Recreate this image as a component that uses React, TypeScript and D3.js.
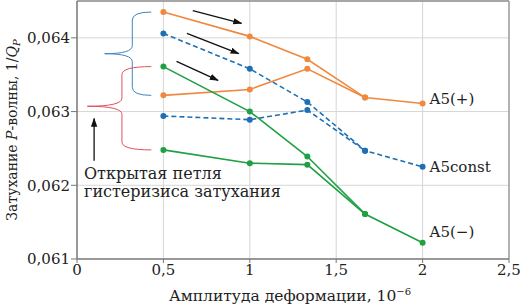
import React from "react";
import * as d3 from "d3";

const amplitudes = [0.5, 1, 1.333, 1.667, 2];
const plusUpper = [0.06435, 0.06402, 0.06371, 0.06319, 0.06311];
const plusLower = [0.06322, 0.0633, 0.06358, 0.06319];
const constUpper = [0.06406, 0.06358, 0.06313, 0.06247, 0.06225];
const constLower = [0.06294, 0.06289, 0.06302, 0.06247];
const minusUpper = [0.06361, 0.063, 0.06239, 0.06161, 0.06122];
const minusLower = [0.06248, 0.0623, 0.06228, 0.06161];
const xTicks = [0, 0.5, 1, 1.5, 2, 2.5];
const yTicks = [0.061, 0.062, 0.063, 0.064];
const seriesLabels = ["A5(+)", "A5const", "A5(−)"];

const W = 520, H = 306;
const M = { left: 77, right: 11, top: 1, bottom: 47 };

const ORANGE = "#f0883e";
const BLUE = "#1f6fb2";
const GREEN = "#1fa043";

export default function App() {
  const x = d3.scaleLinear().domain([0, 2.5]).range([M.left, W - M.right]);
  const y = d3.scaleLinear().domain([0.061, 0.0645]).range([H - M.bottom, M.top]);
  const line = d3.line<[number, number]>().x((d) => x(d[0])).y((d) => y(d[1]));
  const pts = (vals: number[]) => vals.map((v, i) => [amplitudes[i], v] as [number, number]);

  const series = [
    { vals: plusUpper, color: ORANGE, dash: "" },
    { vals: plusLower, color: ORANGE, dash: "" },
    { vals: constUpper, color: BLUE, dash: "5,3" },
    { vals: constLower, color: BLUE, dash: "5,3" },
    { vals: minusUpper, color: GREEN, dash: "" },
    { vals: minusLower, color: GREEN, dash: "" },
  ];

  const fmt = (v: number) => String(v).replace(".", ",");
  const fmtY = (v: number) => v.toFixed(3).replace(".", ",");

  const brace = (xEnd: number, yTop: number, yBot: number, xSpine: number, xTip: number, yMid: number) => {
    const r = 8;
    return `M${xEnd},${yTop} Q${xSpine},${yTop} ${xSpine},${yTop + r} L${xSpine},${yMid - r} Q${xSpine},${yMid} ${xTip},${yMid} Q${xSpine},${yMid} ${xSpine},${yMid + r} L${xSpine},${yBot - r} Q${xSpine},${yBot} ${xEnd},${yBot}`;
  };

  const blueTop = y(plusUpper[0]), blueBot = y(plusLower[0]);
  const redTop = y(minusUpper[0]), redBot = y(minusLower[0]);

  const arrows = [
    [0.67, 0.064368, 0.952, 0.064197],
    [0.636, 0.06406, 0.936, 0.063787],
    [0.576, 0.063682, 0.816, 0.063423],
    [0.099, 0.062332, 0.099, 0.062905],
  ];

  const serif = "'DejaVu Serif', 'Liberation Serif', serif";

  return (
    <svg width={W} height={H} style={{ position: "absolute", left: 0, top: 0, background: "#fff" }} fontFamily={serif}>
      <defs>
        <marker id="ah" viewBox="0 0 10 10" refX="9" refY="5" markerWidth="7" markerHeight="7" orient="auto">
          <path d="M0,1.5 L10,5 L0,8.5 z" fill="#111" />
        </marker>
      </defs>
      {/* grid */}
      {xTicks.slice(1, -1).map((t) => (
        <line key={"gx" + t} x1={x(t)} x2={x(t)} y1={y(0.061)} y2={M.top} stroke="#d6d6d6" strokeWidth={1} />
      ))}
      {yTicks.slice(1).map((t) => (
        <line key={"gy" + t} x1={M.left} x2={W - M.right} y1={y(t)} y2={y(t)} stroke="#d6d6d6" strokeWidth={1} />
      ))}
      {/* frame */}
      <line x1={M.left} x2={W - M.right} y1={M.top} y2={M.top} stroke="#888" strokeWidth={1.5} />
      <line x1={W - M.right} x2={W - M.right} y1={M.top} y2={y(0.061)} stroke="#999" strokeWidth={1.5} />
      <line x1={M.left} x2={M.left} y1={M.top} y2={y(0.061)} stroke="#777" strokeWidth={1.5} />
      <line x1={M.left} x2={W - M.right} y1={y(0.061)} y2={y(0.061)} stroke="#777" strokeWidth={1.5} />
      {/* ticks */}
      {yTicks.map((t) => (
        <g key={"ty" + t}>
          <line x1={M.left - 6} x2={M.left} y1={y(t)} y2={y(t)} stroke="#777" strokeWidth={1} />
          <text x={M.left - 7} y={y(t)} dy="0.35em" textAnchor="end" fontSize={15} fill="#222">{fmtY(t)}</text>
        </g>
      ))}
      {xTicks.map((t) => (
        <g key={"tx" + t}>
          <line x1={x(t)} x2={x(t)} y1={y(0.061)} y2={y(0.061) + 4} stroke="#777" strokeWidth={1} />
          <text x={x(t)} y={y(0.061) + 16} textAnchor="middle" fontSize={15} fill="#222">{fmt(t)}</text>
        </g>
      ))}
      {/* axis titles */}
      <text x={290} y={301} textAnchor="middle" fontSize={15.5} fill="#222">
        Амплитуда деформации, 10<tspan dy={-6} fontSize={10}>−6</tspan>
      </text>
      <text transform={`translate(17,${(M.top + y(0.061)) / 2}) rotate(-90)`} textAnchor="middle" fontSize={14} fill="#222">
        Затухание <tspan fontStyle="italic">P</tspan>-волны, 1/<tspan fontStyle="italic">Q</tspan><tspan fontStyle="italic" fontSize={10} dy={3}>P</tspan>
      </text>
      {/* braces */}
      <path d={brace(x(0.43), blueTop, blueBot, x(0.32), x(0.16), (blueTop + blueBot) / 2)} fill="none" stroke="#3d85c0" strokeWidth={1} />
      <path d={brace(x(0.43), redTop, redBot, x(0.26), x(0.06), (redTop + redBot) / 2 - 2)} fill="none" stroke="#e0505a" strokeWidth={1} />
      {/* arrows */}
      {arrows.map((a, i) => (
        <line key={"ar" + i} x1={x(a[0])} y1={y(a[1])} x2={x(a[2])} y2={y(a[3])} stroke="#111" strokeWidth={1.3} markerEnd="url(#ah)" />
      ))}
      {/* series */}
      {series.map((s, i) => (
        <g key={"s" + i}>
          <path d={line(pts(s.vals)) || ""} fill="none" stroke={s.color} strokeWidth={1.6} strokeDasharray={s.dash || undefined} />
          {pts(s.vals).map((p, j) => (
            <circle key={j} cx={x(p[0])} cy={y(p[1])} r={3} fill={s.color} />
          ))}
        </g>
      ))}
      {/* labels */}
      <text x={x(2) + 7} y={y(plusUpper[4]) + 1} fontSize={15} fill="#222">{seriesLabels[0]}</text>
      <text x={x(2) + 7} y={y(constUpper[4]) + 5} fontSize={15} fill="#222">{seriesLabels[1]}</text>
      <text x={x(2) + 7} y={y(minusUpper[4]) - 6} fontSize={15} fill="#222">{seriesLabels[2]}</text>
      <text x={84} y={179} fontSize={16} fill="#222">Открытая петля</text>
      <text x={84} y={197} fontSize={16} fill="#222">гистеризиса затухания</text>
    </svg>
  );
}
